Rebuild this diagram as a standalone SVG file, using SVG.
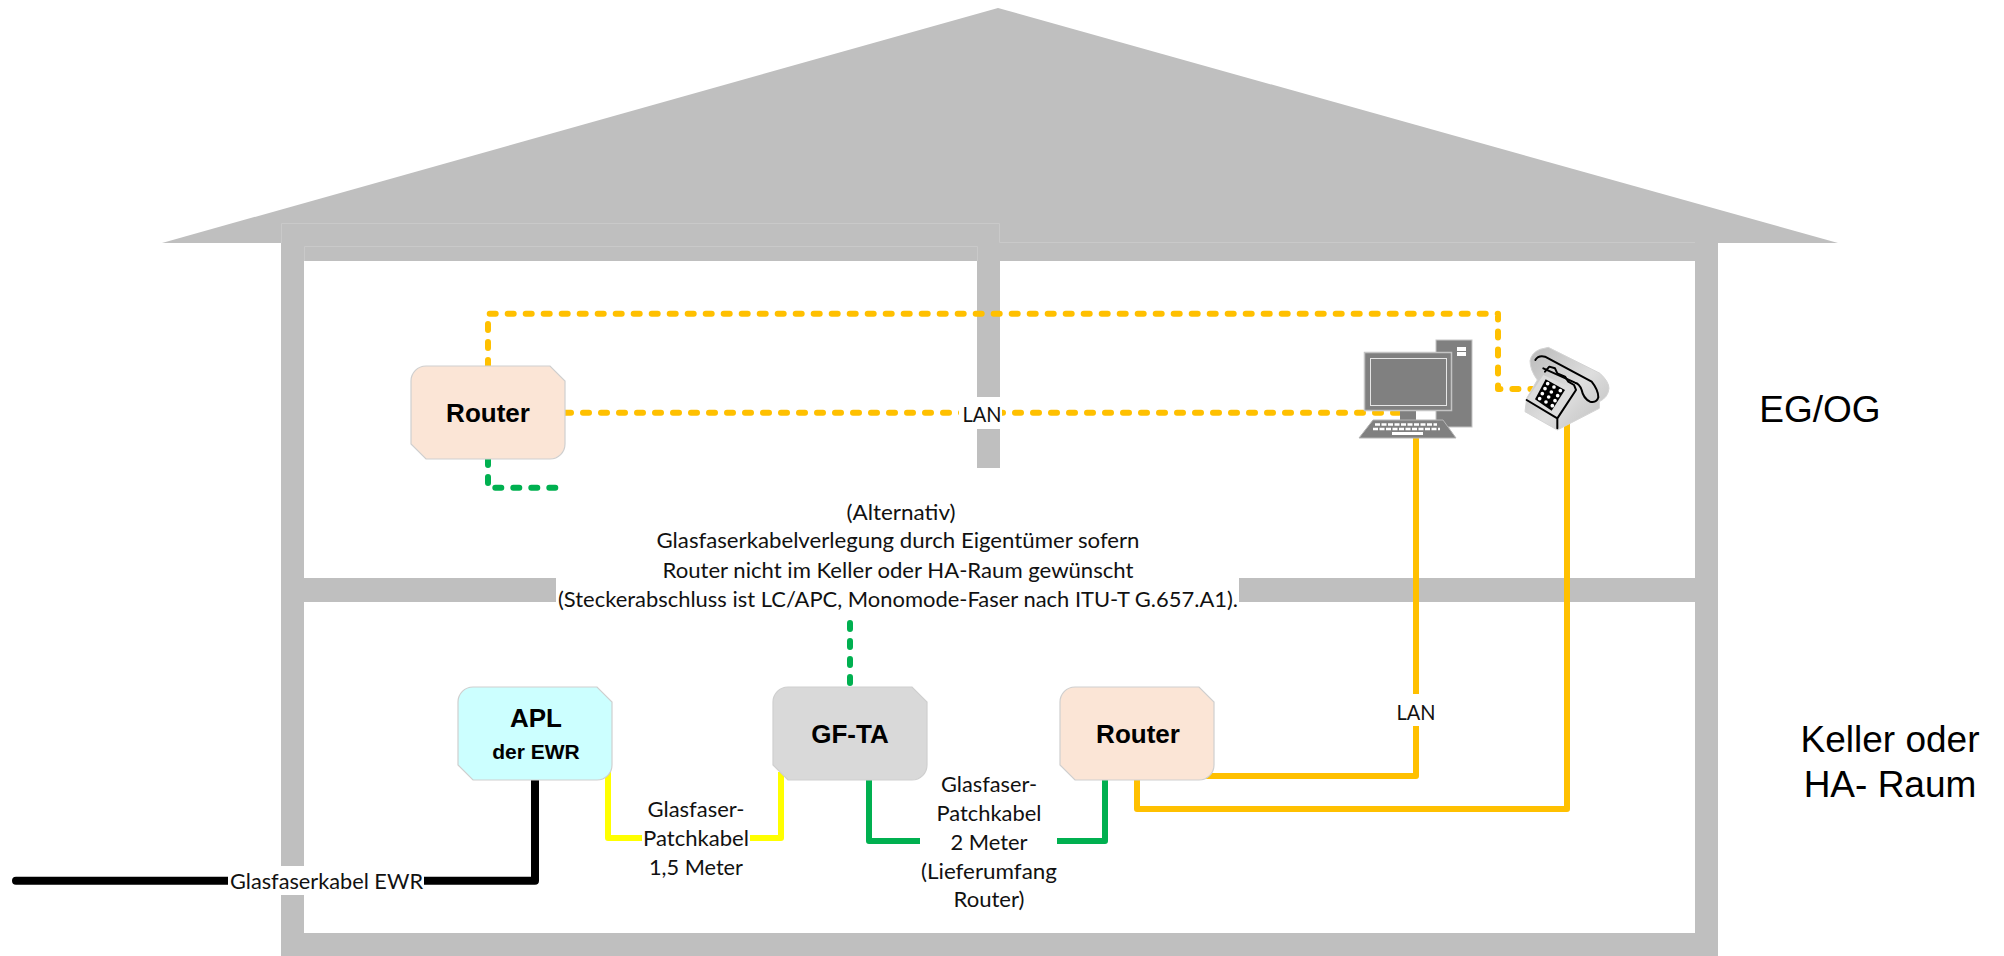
<svg xmlns="http://www.w3.org/2000/svg" width="2004" height="956" viewBox="0 0 2004 956">
<defs>
<linearGradient id="ph" x1="0" y1="0" x2="1" y2="1"><stop offset="0" stop-color="#b8b8b8"/><stop offset="0.55" stop-color="#dedede"/><stop offset="1" stop-color="#bcbcbc"/></linearGradient>
</defs>
<style>
.w{fill:#bfbfbf}
.e{fill:none;stroke:#c9c9c9;stroke-width:1}
.c{fill:none;stroke-linejoin:round}
.sol{stroke-width:6}
.dot{stroke-width:6;stroke-dasharray:6 12;stroke-linecap:round}
.or{stroke:#ffc000}.gr{stroke:#00b050}.ye{stroke:#ffff00}.bk{stroke:#000;stroke-width:8;stroke-linecap:round}
.n{stroke:#cfcfcf;stroke-width:1.2}
.b{font-family:"Liberation Sans",Arial,sans-serif;font-weight:700;font-size:26px;text-anchor:middle;fill:#000}
.t{font-family:Lato,"Liberation Sans",sans-serif;font-size:22px;text-anchor:middle;fill:#111}
.r{font-family:"Liberation Sans",Arial,sans-serif;font-size:37px;text-anchor:middle;fill:#000}
.bl{fill:none;stroke:#000;stroke-width:6;stroke-linecap:round;stroke-linejoin:round}
</style>
<g id="house">
<polygon class="w" points="998,8 1838,243 162,243"/>
<rect class="w" x="281" y="243" width="1437" height="18"/>
<rect class="w" x="281" y="223" width="719" height="38"/>
<rect class="w" x="281" y="223" width="23" height="643"/>
<rect class="w" x="281" y="895" width="23" height="61"/>
<rect class="w" x="977" y="223" width="23" height="245"/>
<rect class="w" x="1695" y="243" width="23" height="713"/>
<rect class="w" x="281" y="933" width="1437" height="23"/>
<rect class="w" x="281" y="578" width="275" height="24"/>
<rect class="w" x="1239" y="578" width="479" height="24"/>
<path class="e" d="M281.500,243V223.500H999.500V242.500H1695M304.500,261V246.500H977.500V261"/>
</g>
<g id="connectors">
<path class="c dot or" d="M488,366V313.700H1498V389H1532"/>
<path class="c dot or" d="M565,412.700H1400"/>
<path class="c dot gr" d="M488,459V487.700H556"/>
<path class="c dot gr" d="M850,683V613"/>
<path class="c sol ye" d="M608,772V838H642M750,838H781V772"/>
<path class="c sol gr" d="M869,780V841H920M1057,841H1105V780"/>
<path class="c sol or" d="M1205,776H1416V726M1416,694V438"/>
<path class="c sol or" d="M1137,780V809H1567V420"/>
<path class="c bk" stroke-linecap="round" d="M16,880.700H228M424,880.700H535V780"/>
</g>
<g id="router-og"><path class="n" fill="#fbe5d6" d="M426,366H550L565,381V444A15,15 0 0 1 550,459H426L411,444V381A15,15 0 0 1 426,366Z"/><text class="b" x="488" y="422">Router</text></g>
<g id="apl"><path class="n" fill="#ccffff" d="M473,687H597L612,702V765A15,15 0 0 1 597,780H473L458,765V702A15,15 0 0 1 473,687Z"/><text class="b" x="536" y="727">APL</text><text class="b" style="font-size:21px" x="536" y="759">der EWR</text></g>
<g id="gf-ta"><path class="n" fill="#d9d9d9" d="M788,687H912L927,702V765A15,15 0 0 1 912,780H788L773,765V702A15,15 0 0 1 788,687Z"/><text class="b" x="850" y="743">GF-TA</text></g>
<g id="router-keller"><path class="n" fill="#fbe5d6" d="M1075,687H1199L1214,702V765A15,15 0 0 1 1199,780H1075L1060,765V702A15,15 0 0 1 1075,687Z"/><text class="b" x="1138" y="743">Router</text></g>
<g id="pc">
<rect x="1436" y="340" width="36" height="87" fill="#808080" stroke="#c4c4c4"/>
<rect x="1457" y="347" width="9" height="4" fill="#fff"/><rect x="1457" y="352" width="9" height="4" fill="#fff"/>
<rect x="1400" y="411" width="16" height="10" fill="#808080"/>
<rect x="1364.500" y="352.500" width="87" height="58" fill="#808080" stroke="#c4c4c4" stroke-width="1.500"/>
<rect x="1370.500" y="358.500" width="76" height="47" fill="none" stroke="#e6e6e6"/>
<polygon points="1373,420 1443,420 1456,438 1359,438" fill="#808080" stroke="#b5b5b5"/>
<path d="M1375,424.500H1437M1373,429H1440" stroke="#fff" stroke-width="2.500" stroke-dasharray="5 1.500" fill="none"/>
<rect x="1392" y="432" width="31" height="3" fill="#fff"/>
</g>
<g id="phone" transform="translate(1500 340) scale(.3333)">
<path d="M90,62Q95,38 120,28L145,22L300,100Q327,125 327,145Q325,172 298,185V205L172,270L75,215L80,175L112,120Q90,90 90,62Z" fill="url(#ph)" stroke="#d4d4d4" stroke-width="3"/>
<polygon points="130,105 228,150 172,235 80,180" fill="#dcdcdc"/>
<path class="bl" d="M106,60Q115,45 135,50L275,125Q295,150 295,172Q290,190 270,185Q250,175 245,150Q238,130 225,128L130,85"/>
<path class="bl" d="M135,95L148,80L165,85L172,100L195,110L205,125L222,135L228,150L172,235V265M172,235L80,180" stroke-width="5"/>
<polygon points="137,118 195,150 155,212 105,178" fill="#000"/>
<g fill="#fff"><circle cx="143" cy="131" r="5.500"/><circle cx="135" cy="146" r="5.500"/><circle cx="127" cy="161" r="5.500"/><circle cx="119" cy="176" r="5.500"/><circle cx="162" cy="141" r="5.500"/><circle cx="154" cy="156" r="5.500"/><circle cx="146" cy="171" r="5.500"/><circle cx="138" cy="186" r="5.500"/><circle cx="181" cy="152" r="5.500"/><circle cx="173" cy="167" r="5.500"/><circle cx="165" cy="182" r="5.500"/><circle cx="157" cy="197" r="5.500"/></g>
</g>
<g id="labels">
<rect x="959" y="397" width="43" height="32" fill="#fff"/>
<rect x="1396" y="694" width="41" height="32" fill="#fff"/>
<rect x="228" y="866" width="196" height="29" fill="#fff"/>
<text class="t" x="982" y="422" textLength="39" lengthAdjust="spacingAndGlyphs">LAN</text>
<text class="t" x="1416" y="720" textLength="39" lengthAdjust="spacingAndGlyphs">LAN</text>
<text class="t" x="326.500" y="889" textLength="193" lengthAdjust="spacingAndGlyphs">Glasfaserkabel EWR</text>
<text class="t" x="901" y="520" textLength="109" lengthAdjust="spacingAndGlyphs">(Alternativ)</text>
<text class="t" x="898" y="548" textLength="483" lengthAdjust="spacingAndGlyphs">Glasfaserkabelverlegung durch Eigentümer sofern</text>
<text class="t" x="898" y="578" textLength="471" lengthAdjust="spacingAndGlyphs">Router nicht im Keller oder HA-Raum gewünscht</text>
<text class="t" x="898" y="607" textLength="680" lengthAdjust="spacingAndGlyphs">(Steckerabschluss ist LC/APC, Monomode-Faser nach ITU-T G.657.A1).</text>
<text class="t" x="696" y="817" textLength="97" lengthAdjust="spacingAndGlyphs">Glasfaser-</text>
<text class="t" x="696" y="846" textLength="106" lengthAdjust="spacingAndGlyphs">Patchkabel</text>
<text class="t" x="696" y="875" textLength="94" lengthAdjust="spacingAndGlyphs">1,5 Meter</text>
<text class="t" x="989" y="792" textLength="96" lengthAdjust="spacingAndGlyphs">Glasfaser-</text>
<text class="t" x="989" y="821" textLength="105" lengthAdjust="spacingAndGlyphs">Patchkabel</text>
<text class="t" x="989" y="850" textLength="77" lengthAdjust="spacingAndGlyphs">2 Meter</text>
<text class="t" x="989" y="879" textLength="136" lengthAdjust="spacingAndGlyphs">(Lieferumfang</text>
<text class="t" x="989" y="907" textLength="71" lengthAdjust="spacingAndGlyphs">Router)</text>
<text class="r" x="1820" y="422">EG/OG</text>
<text class="r" x="1890" y="752">Keller oder</text>
<text class="r" x="1890" y="797">HA- Raum</text>
</g>
</svg>
